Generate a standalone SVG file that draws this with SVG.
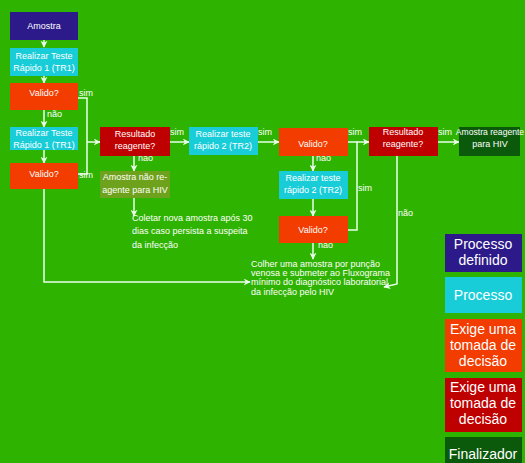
<svg xmlns="http://www.w3.org/2000/svg" width="525" height="463" viewBox="0 0 525 463">
<defs>
<marker id="ah" viewBox="0 0 10 10" refX="9" refY="5" markerWidth="7" markerHeight="7" markerUnits="userSpaceOnUse" orient="auto">
<path d="M0,0 L10,5 L0,10 L3,5 z" fill="#eaffea"/>
</marker>
<style>
.t{font-family:"Liberation Sans",Arial,sans-serif;font-size:9px;fill:#ffffff;text-anchor:middle}
.l{font-family:"Liberation Sans",Arial,sans-serif;font-size:9px;fill:#ffffff}
.g{font-family:"Liberation Sans",Arial,sans-serif;font-size:14px;fill:#ffffff;text-anchor:middle}
.c{stroke:#eaffea;stroke-width:1.5;fill:none}
.a{marker-end:url(#ah)}
.pd{fill:#2c1a8a}
.p{fill:#18cdd8}
.d{fill:#f23c00}
.r{fill:#bf0000}
.f{fill:#0b5a0b}
.o{fill:#6fa21c}
</style>
</defs>
<rect width="525" height="463" fill="#2eb300"/>
<g id="connectors">
<line class="c a" x1="44" y1="40" x2="44" y2="47"/>
<line class="c a" x1="44" y1="76" x2="44" y2="83"/>
<line class="c a" x1="44" y1="110" x2="44" y2="127"/>
<line class="c a" x1="44" y1="150" x2="44" y2="163"/>
<polyline class="c" points="78,98 87,98 87,174 78,174"/>
<line class="c a" x1="87" y1="142" x2="100" y2="142"/>
<polyline class="c a" points="44,189 44,282 250,282"/>
<line class="c a" x1="170" y1="142" x2="189" y2="142"/>
<line class="c a" x1="258" y1="142" x2="279" y2="142"/>
<line class="c a" x1="134" y1="156" x2="134" y2="171"/>
<line class="c a" x1="134" y1="198" x2="134" y2="216"/>
<line class="c a" x1="313" y1="156" x2="313" y2="171"/>
<line class="c a" x1="313" y1="199" x2="313" y2="216"/>
<line class="c a" x1="313" y1="243" x2="313" y2="259"/>
<polyline class="c" points="348,230 357,230 357,142 348,142"/>
<line class="c a" x1="357" y1="142" x2="369" y2="142"/>
<line class="c a" x1="438" y1="142" x2="459" y2="142"/>
<polyline class="c a" points="397,156 397,284 384,287"/>
</g>
<g id="labels">
<text class="l" x="79" y="96">sim</text>
<text class="l" x="79" y="178">sim</text>
<text class="l" x="47" y="117">não</text>
<text class="l" x="170" y="135">sim</text>
<text class="l" x="258" y="135">sim</text>
<text class="l" x="138" y="161">não</text>
<text class="l" x="316" y="161">não</text>
<text class="l" x="348" y="135">sim</text>
<text class="l" x="358" y="191">sim</text>
<text class="l" x="438" y="135">sim</text>
<text class="l" x="398" y="216">não</text>
<text class="l" x="318" y="248">não</text>
</g>
<g id="n-amostra"><rect class="pd" x="10" y="12" width="68" height="28"/><text class="t" x="44" y="29">Amostra</text></g>
<g id="n-tr1a"><rect class="p" x="10" y="48" width="68" height="28"/><text class="t" x="44" y="59">Realizar Teste</text><text class="t" x="44" y="71">Rápido 1 (TR1)</text></g>
<g id="n-val1"><rect class="d" x="10" y="83" width="68" height="27"/><text class="t" x="44" y="96">Valido?</text></g>
<g id="n-tr1b"><rect class="p" x="10" y="127" width="68" height="23"/><text class="t" x="44" y="136">Realizar Teste</text><text class="t" x="44" y="148">Rápido 1 (TR1)</text></g>
<g id="n-val2"><rect class="d" x="10" y="163" width="68" height="26"/><text class="t" x="44" y="177">Valido?</text></g>
<g id="n-res1"><rect class="r" x="100" y="127" width="70" height="29"/><text class="t" x="135" y="137">Resultado</text><text class="t" x="135" y="149">reagente?</text></g>
<g id="n-naoreag"><rect class="o" x="100" y="171" width="70" height="27"/><text class="t" x="135" y="180">Amostra não re-</text><text class="t" x="135" y="193">agente para HIV</text></g>
<g id="n-coletar"><text class="l" x="132" y="221">Coletar nova amostra após 30</text><text class="l" x="132" y="234">dias caso persista a suspeita</text><text class="l" x="132" y="248">da infecção</text></g>
<g id="n-tr2a"><rect class="p" x="189" y="127" width="69" height="28"/><text class="t" x="223" y="137">Realizar teste</text><text class="t" x="223" y="149">rápido 2 (TR2)</text></g>
<g id="n-val3"><rect class="d" x="279" y="128" width="69" height="28"/><text class="t" x="313" y="147">Valido?</text></g>
<g id="n-tr2b"><rect class="p" x="279" y="171" width="69" height="28"/><text class="t" x="313" y="181">Realizar teste</text><text class="t" x="313" y="193">rápido 2 (TR2)</text></g>
<g id="n-val4"><rect class="d" x="279" y="216" width="69" height="27"/><text class="t" x="313" y="233">Valido?</text></g>
<g id="n-res2"><rect class="r" x="369" y="127" width="69" height="29"/><text class="t" x="403" y="135">Resultado</text><text class="t" x="403" y="147">reagente?</text></g>
<g id="n-reag"><rect class="f" x="459" y="127" width="61" height="29"/><text class="t" x="490" y="135" style="font-size:8.6px">Amostra reagente</text><text class="t" x="490" y="147">para HIV</text></g>
<g id="n-colher"><text class="l" x="251" y="267">Colher uma amostra por punção</text><text class="l" x="251" y="276">venosa e submeter ao Fluxograma</text><text class="l" x="251" y="285">mínimo do diagnóstico laboratorial</text><text class="l" x="251" y="295">da infecção pelo HIV</text></g>
<g id="legend">
<g id="lg-pd"><rect class="pd" x="445" y="234" width="77" height="38"/><text class="g" x="483" y="249">Processo</text><text class="g" x="483" y="265">definido</text></g>
<g id="lg-p"><rect class="p" x="445" y="277" width="77" height="36"/><text class="g" x="483" y="300">Processo</text></g>
<g id="lg-d"><rect class="d" x="445" y="319" width="77" height="53"/><text class="g" x="483" y="334">Exige uma</text><text class="g" x="483" y="350">tomada de</text><text class="g" x="483" y="366">decisão</text></g>
<g id="lg-r"><rect class="r" x="445" y="378" width="77" height="54"/><text class="g" x="483" y="392">Exige uma</text><text class="g" x="483" y="408">tomada de</text><text class="g" x="483" y="424">decisão</text></g>
<g id="lg-f"><rect class="f" x="445" y="437" width="77" height="30"/><text class="g" x="483" y="459">Finalizador</text></g>
</g>
</svg>
